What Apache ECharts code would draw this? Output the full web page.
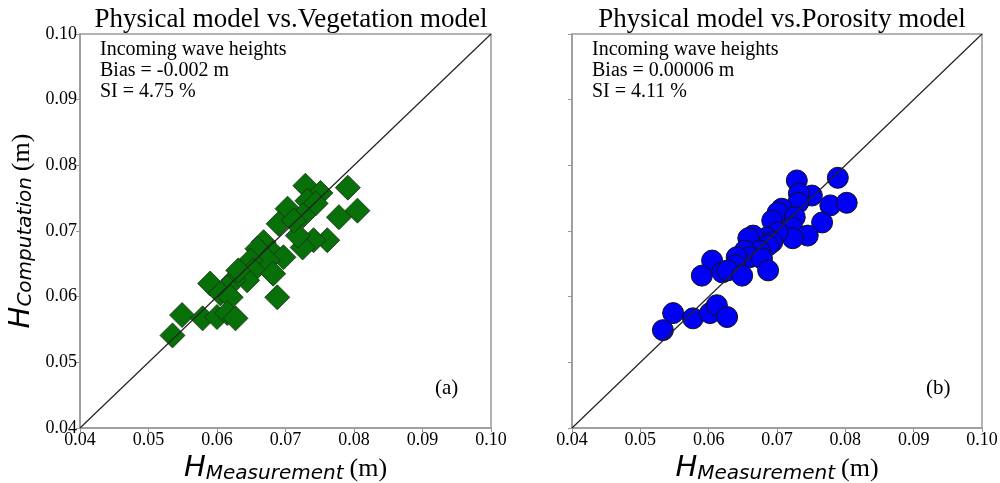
<!DOCTYPE html>
<html>
<head>
<meta charset="utf-8">
<script src="https://cdn.jsdelivr.net/npm/echarts@6/dist/echarts.min.js"></script>
<style>
  html, body { margin: 0; padding: 0; background: #fff; }
  #main { width: 1000px; height: 483px; }
</style>
</head>
<body>
<div id="main"></div>
<script>
// vegetation model (a): [measured, computed]
var vegPoints = [
    [0.0729, 0.0769], [0.0751, 0.0758], [0.0791, 0.0766], [0.0805, 0.0731],
    [0.0778, 0.0721], [0.0761, 0.0686], [0.0741, 0.0686], [0.0725, 0.0675],
    [0.0718, 0.0693], [0.0732, 0.0746], [0.0744, 0.0742], [0.0703, 0.0734],
    [0.0690, 0.0711], [0.0726, 0.0724], [0.0712, 0.0716], [0.0668, 0.0683],
    [0.0659, 0.0673], [0.0682, 0.0666], [0.0697, 0.0660], [0.0674, 0.0655],
    [0.0649, 0.0655], [0.0653, 0.0640], [0.0682, 0.0635], [0.0644, 0.0625],
    [0.0624, 0.0625], [0.0590, 0.0620], [0.0615, 0.0614], [0.0605, 0.0605],
    [0.0620, 0.0599], [0.0688, 0.0599], [0.0549, 0.0572], [0.0579, 0.0567],
    [0.0600, 0.0569], [0.0615, 0.0575], [0.0627, 0.0567], [0.0535, 0.0541],
    [0.0631, 0.0640]
];

// porosity model (b)
var porPoints = [
    [0.0729, 0.0777], [0.0789, 0.0781], [0.0751, 0.0754], [0.0732, 0.0757],
    [0.0731, 0.0743], [0.0778, 0.0739], [0.0802, 0.0743], [0.0707, 0.0734],
    [0.0701, 0.0728], [0.0726, 0.0721], [0.0693, 0.0716], [0.0722, 0.0705],
    [0.0766, 0.0713], [0.0745, 0.0693], [0.0723, 0.0689], [0.0701, 0.0698],
    [0.0685, 0.0690], [0.0693, 0.0683], [0.0665, 0.0693], [0.0658, 0.0689],
    [0.0687, 0.0678], [0.0675, 0.0670], [0.0653, 0.0670], [0.0660, 0.0660],
    [0.0678, 0.0658], [0.0641, 0.0660], [0.0605, 0.0655], [0.0639, 0.0648],
    [0.0620, 0.0637], [0.0628, 0.0640], [0.0590, 0.0632], [0.0649, 0.0632],
    [0.0687, 0.0640], [0.0548, 0.0575], [0.0577, 0.0567], [0.0602, 0.0575],
    [0.0612, 0.0587], [0.0627, 0.0569], [0.0533, 0.0549]
];

var oneToOne = [[0.04, 0.04], [0.10, 0.10]];

var titles = ['Physical model vs.Vegetation model', 'Physical model vs.Porosity model'];
var statsText = [
    'Incoming wave heights\nBias = -0.002 m\nSI = 4.75 %',
    'Incoming wave heights\nBias = 0.00006 m\nSI = 4.11 %'
];
var panelTags = ['(a)', '(b)'];

var serif = 'Liberation Serif';
var gray = '#999';

var nameRich = {
    h: { fontFamily: 'DejaVu Sans', fontStyle: 'italic', fontSize: 29, color: '#000' },
    s: { fontFamily: 'DejaVu Sans', fontStyle: 'italic', fontSize: 20, color: '#000', padding: [10, 0, 0, 0] },
    m: { fontFamily: serif, fontSize: 26, color: '#000', padding: [2, 0, 0, 6] }
};

function makeX(idx) {
    return {
        gridIndex: idx, type: 'value', min: 0.04, max: 0.10, interval: 0.01,
        name: '{h|H}{s|Measurement}{m|(m)}',
        nameLocation: 'middle', nameGap: 24,
        nameTextStyle: { rich: nameRich },
        axisLine: { show: true, lineStyle: { color: gray, width: 1.5 } },
        axisTick: { show: true, length: 4, lineStyle: { color: gray } },
        axisLabel: { fontFamily: serif, fontSize: 18, color: '#000', margin: 3,
            formatter: function (v) { return v.toFixed(2); } },
        splitLine: { show: false }
    };
}

function makeY(idx) {
    return {
        gridIndex: idx, type: 'value', min: 0.04, max: 0.10, interval: 0.01,
        name: idx === 0 ? '{h|H}{s|Computation}{m|(m)}' : '',
        nameLocation: 'middle', nameGap: 44, nameRotate: 90,
        nameTextStyle: { rich: nameRich },
        axisLine: { show: true, lineStyle: { color: gray, width: 1.5 } },
        axisTick: { show: true, length: 4, lineStyle: { color: gray } },
        axisLabel: { show: idx === 0, fontFamily: serif, fontSize: 18, color: '#000', margin: 3,
            formatter: function (v) { return v.toFixed(2); } },
        splitLine: { show: false }
    };
}

var chart = echarts.init(document.getElementById('main'));

var option = {
    animation: false,
    backgroundColor: '#fff',
    title: [
        { text: titles[0], left: 286, top: 1, textAlign: 'center',
          textStyle: { fontFamily: serif, fontSize: 27, fontWeight: 'normal', color: '#000' } },
        { text: titles[1], left: 777, top: 1, textAlign: 'center',
          textStyle: { fontFamily: serif, fontSize: 27, fontWeight: 'normal', color: '#000' } }
    ],
    grid: [
        { left: 80, top: 34, width: 411, height: 394, show: true, borderColor: gray, borderWidth: 1.5,
          outerBoundsMode: 'none', containLabel: false },
        { left: 572, top: 34, width: 410, height: 394, show: true, borderColor: gray, borderWidth: 1.5,
          outerBoundsMode: 'none', containLabel: false }
    ],
    xAxis: [makeX(0), makeX(1)],
    yAxis: [makeY(0), makeY(1)],
    graphic: [
        { type: 'text', left: 100, top: 39, style: { text: statsText[0], font: '20px "Liberation Serif"', lineHeight: 21, fill: '#000' } },
        { type: 'text', left: 592, top: 39, style: { text: statsText[1], font: '20px "Liberation Serif"', lineHeight: 21, fill: '#000' } },
        { type: 'text', left: 435, top: 378, style: { text: panelTags[0], font: '21px "Liberation Serif"', fill: '#000' } },
        { type: 'text', left: 926, top: 378, style: { text: panelTags[1], font: '21px "Liberation Serif"', fill: '#000' } }
    ],
    series: [
        {
            type: 'scatter', xAxisIndex: 0, yAxisIndex: 0, data: vegPoints,
            symbol: 'diamond', symbolSize: 25,
            itemStyle: { color: '#087008', borderColor: '#1a2a1a', borderWidth: 0.8, opacity: 1 }
        },
        {
            type: 'scatter', xAxisIndex: 1, yAxisIndex: 1, data: porPoints,
            symbol: 'circle', symbolSize: 21,
            itemStyle: { color: '#0000f5', borderColor: '#111', borderWidth: 1, opacity: 1 }
        },
        {
            type: 'line', xAxisIndex: 0, yAxisIndex: 0, data: oneToOne, z: 5,
            symbol: 'none', lineStyle: { color: '#222', width: 1.2 }
        },
        {
            type: 'line', xAxisIndex: 1, yAxisIndex: 1, data: oneToOne, z: 5,
            symbol: 'none', lineStyle: { color: '#222', width: 1.2 }
        }
    ]
};

chart.setOption(option);
</script>
</body>
</html>
